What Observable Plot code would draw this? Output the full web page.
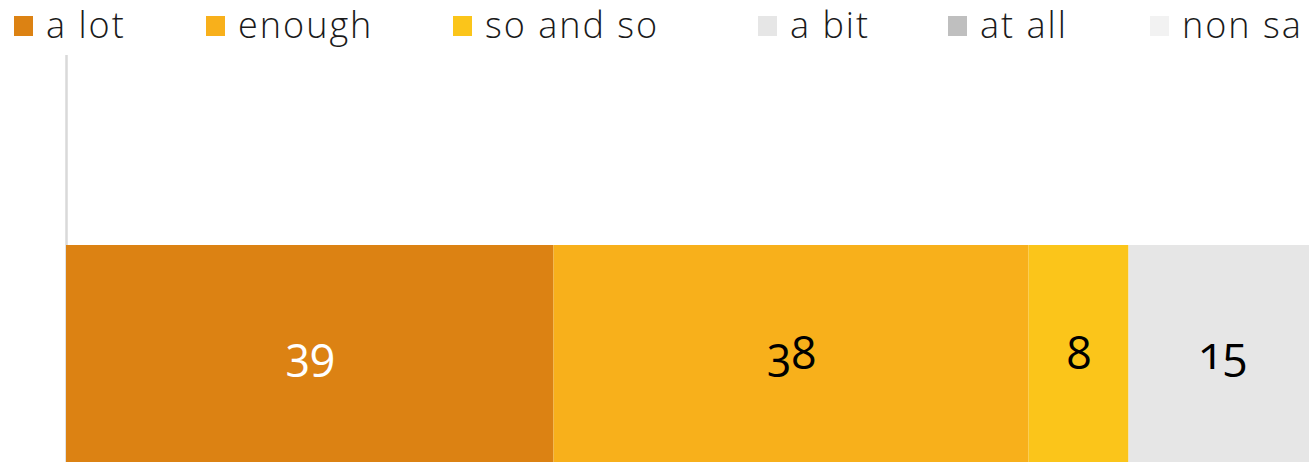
<!DOCTYPE html>
<html>
<head>
<meta charset="utf-8">
<script src="https://cdn.jsdelivr.net/npm/d3@7"></script>
<script src="https://cdn.jsdelivr.net/npm/@observablehq/plot@0.6"></script>
<style>
  html, body { margin: 0; padding: 0; background: #fff; overflow: hidden; width: 1309px; height: 462px; }
  #legend { position: relative; height: 50px; font-family: "Open Sans", sans-serif; font-weight: 300; font-size: 36px; line-height: 44px; color: #1a1a1a; letter-spacing: 2px; }
  .item { position: absolute; top: 0; white-space: nowrap; }
  .sw { position: absolute; top: 16px; width: 19px; height: 20px; }
  .lab { position: absolute; top: 3px; }
  #chart svg { display: block; }
</style>
</head>
<body>
<div id="legend"></div>
<div id="chart"></div>
<script>
const categories = ["a lot", "enough", "so and so", "a bit", "at all", "non sa"];
const values = [39, 38, 8, 15, 0, 0];
const colors = ["#DC8213", "#F8B01B", "#FBC51A", "#E6E6E6", "#BFBFBF", "#F2F2F2"];
const labelColors = ["#ffffff", "#000000", "#000000", "#000000", "#000000", "#000000"];
const legendX = [14, 206, 453, 758, 948, 1150];

const legend = document.getElementById("legend");
categories.forEach((c, i) => {
  const it = document.createElement("div");
  it.className = "item";
  it.style.left = legendX[i] + "px";
  it.innerHTML = `<span class="sw" style="left:0;background:${colors[i]}"></span><span class="lab" style="left:32px">${c}</span>`;
  legend.appendChild(it);
});

const data = categories.map((c, i) => ({cat: c, value: values[i], row: "q"}));

const chart = Plot.plot({
  width: 1309,
  height: 480,
  marginTop: 5,
  marginBottom: 0,
  marginLeft: 0,
  marginRight: 0,
  x: {domain: [0, 100], range: [66, 1316], axis: null},
  y: {domain: ["q"], range: [195, 425], padding: 0, axis: null},
  color: {domain: categories, range: colors},
  marks: [
    Plot.ruleX([0], {stroke: "#D9D9D9", strokeWidth: 2.5}),
    Plot.barX(data, Plot.stackX({x: "value", y: "row", fill: "cat", order: null})),
    Plot.text(data.filter(d => d.value > 0), Plot.stackX({
      x: "value", y: "row", z: "cat", order: null,
      text: d => String(d.value),
      fill: d => labelColors[categories.indexOf(d.cat)],
      fontSize: 45,
      fontFamily: "Open Sans, sans-serif",
      dy: -6
    }))
  ]
});
chart.style.fontVariantNumeric = "oldstyle-nums";
chart.querySelectorAll("text").forEach(t => t.style.fontFeatureSettings = '"onum" 1');
document.getElementById("chart").appendChild(chart);
</script>
</body>
</html>
